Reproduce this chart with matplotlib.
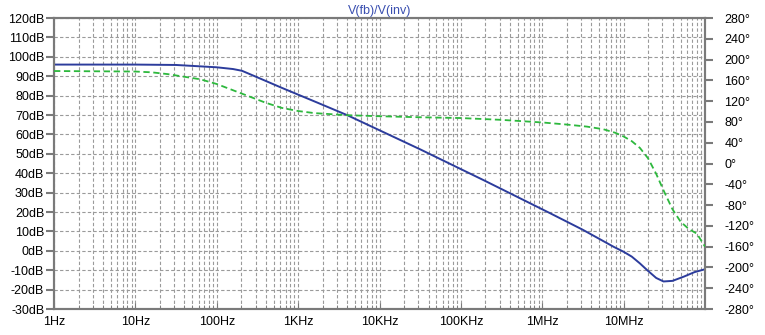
import numpy as np
import matplotlib.pyplot as plt
from matplotlib.ticker import LogLocator, NullFormatter

plt.rcParams['font.family'] = ['Liberation Sans', 'DejaVu Sans']

# magnitude curve (log10 of frequency, dB)
mag_logf = [0, 1, 1.5, 2.0, 2.2, 2.31, 2.5, 2.8, 3.23, 3.61, 4.21, 4.5, 5.28, 6.1, 6.5,
            6.88, 7.0, 7.1, 7.2, 7.29, 7.4, 7.49, 7.6, 7.74, 7.87, 8.0]
mag_db = [96.0, 96.0, 95.8, 94.6, 93.7, 92.8, 89.4, 84.0, 76.5, 69.8, 58.0, 52.3, 36.4, 19.3, 10.8,
          2.0, -0.5, -3.0, -6.5, -10.0, -14.0, -15.8, -15.5, -13.3, -11.0, -9.5]

# phase curve (log10 of frequency, degrees)
ph_logf = [0, 1, 1.2, 1.4, 1.6, 1.8, 2.0, 2.2, 2.4, 2.6, 2.8, 3.0, 3.2, 3.6, 4.0, 4.5, 5.0, 5.5,
           6.0, 6.3, 6.55, 6.75, 6.9, 7.0, 7.1, 7.2, 7.3, 7.4, 7.5, 7.6, 7.7, 7.8, 7.9, 8.0]
ph_deg = [178, 177, 175.5, 172, 167, 162, 153, 141, 129, 117, 107, 101, 97, 93, 91, 89, 87.5, 84,
          79, 75, 71, 66, 59, 52, 43, 30, 10, -20, -55, -88, -112, -126, -135, -160]

x_ticks = [1, 10, 100, 1e3, 1e4, 1e5, 1e6, 1e7]
x_labels = ['1Hz', '10Hz', '100Hz', '1KHz', '10KHz', '100KHz', '1MHz', '10MHz']
db_ticks = list(range(-30, 121, 10))
deg_ticks = list(range(-280, 281, 40))

grid_col = '#9a9a9a'
spine_col = '#7a7a7a'

fig = plt.figure(figsize=(7.65, 3.35), dpi=100)
ax = fig.add_axes([0.0706, 0.0776, 0.851, 0.8686])
ax2 = ax.twinx()

ax.plot(10 ** np.array(mag_logf), mag_db, color='#2c3c9c', lw=1.4, zorder=3)
ax2.plot(10 ** np.array(ph_logf), ph_deg, color='#2db83d', lw=1.3,
         linestyle=(0, (3.5, 2)), zorder=3)

ax.set_xscale('log')
ax.set_xlim(1, 1e8)
ax.set_ylim(-30, 120)
ax2.set_ylim(-280, 280)

ax.set_xticks(x_ticks)
ax.set_xticklabels(x_labels)
ax.xaxis.set_minor_locator(LogLocator(base=10, subs=np.arange(2, 10), numticks=20))
ax.xaxis.set_minor_formatter(NullFormatter())
ax.set_yticks(db_ticks)
ax.set_yticklabels([f'{v}dB' for v in db_ticks])
ax2.set_yticks(deg_ticks)
ax2.set_yticklabels([f'{v}°' for v in deg_ticks])

ax.grid(True, which='both', axis='x', color=grid_col, linestyle=(0, (3, 2)), lw=0.8)
ax.grid(True, which='major', axis='y', color=grid_col, linestyle=(0, (3, 2)), lw=0.8)

ax.tick_params(axis='x', which='major', direction='in', length=4, color=spine_col,
               labelsize=9, pad=5)
ax.tick_params(axis='x', which='minor', direction='in', length=3, color=spine_col)
ax.tick_params(axis='y', direction='out', length=6, width=1.5, color=spine_col,
               labelsize=9, pad=1)
ax2.tick_params(axis='y', direction='out', length=6, width=1.5, color=spine_col,
                labelsize=9, pad=8)

for a in (ax, ax2):
    for s in a.spines.values():
        s.set_color(spine_col)
        s.set_linewidth(1.5)

ax.set_title('V(fb)/V(inv)', color='#3a4fb0', fontsize=9, pad=3)

fig.savefig('out.png', dpi=100)
